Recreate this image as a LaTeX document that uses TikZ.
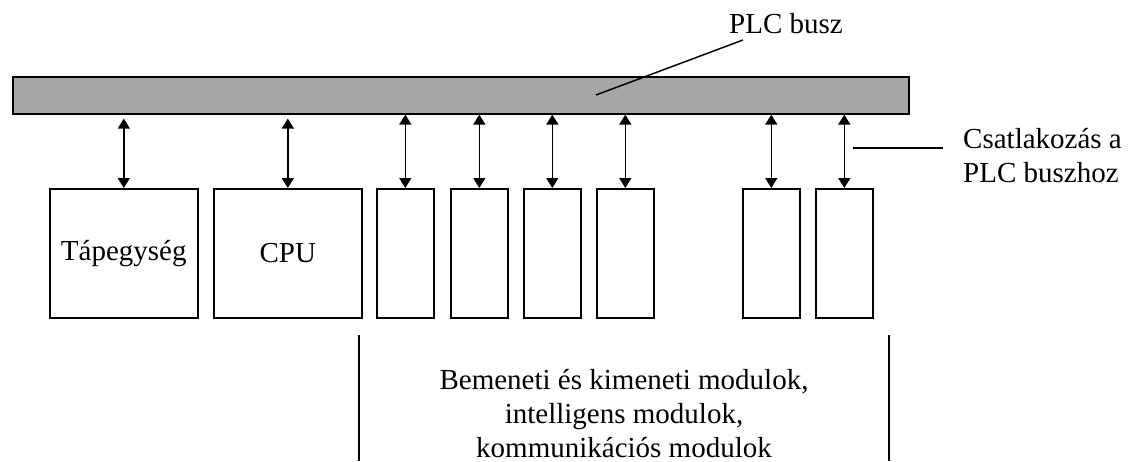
\documentclass[tikz,border=0pt]{standalone}
\usepackage{fontspec}
\setmainfont{Liberation Serif}
\usetikzlibrary{arrows.meta}
\begin{document}
\begin{tikzpicture}[x=1pt,y=-1pt,
  box/.style={draw,line width=1.6pt,inner sep=0pt,anchor=north west},
  link/.style={line width=1.5pt,{Triangle[length=10pt,width=12pt]}-{Triangle[length=10pt,width=12pt]}},
  lead/.style={line width=1.5pt},
  txt/.style={font=\fontsize{29}{34}\selectfont,inner sep=0pt}]
\useasboundingbox (0,0) rectangle (1138,461);
\node[box,fill=black!35,minimum width=896pt,minimum height=37pt] (bus) at (12,76) {};
\node[box,minimum width=148pt,minimum height=129pt] (tap) at (49,188) {};
\node[txt] at (tap.center) {Tápegység};
\node[box,minimum width=148pt,minimum height=129pt] (cpu) at (213,188) {};
\node[txt] at (cpu.center) {CPU};
\node[box,minimum width=57pt,minimum height=129pt] (m1) at (376,188) {};
\node[box,minimum width=57pt,minimum height=129pt] (m2) at (450,188) {};
\node[box,minimum width=57pt,minimum height=129pt] (m3) at (523,188) {};
\node[box,minimum width=57pt,minimum height=129pt] (m4) at (596,188) {};
\node[box,minimum width=57pt,minimum height=129pt] (m5) at (742,188) {};
\node[box,minimum width=57pt,minimum height=129pt] (m6) at (815,188) {};
\draw[link,shorten <=4pt] (tap.north |- bus.south) -- (tap.north);
\draw[link,shorten <=4pt] (cpu.north |- bus.south) -- (cpu.north);
\foreach \m in {m1,m2,m3,m4,m5,m6}
  \draw[link] (\m.north |- bus.south) -- (\m.north);
\node[txt] (plc) at (786,24) {PLC busz};
\coordinate (plcA) at (743,40);
\coordinate (plcB) at (596,95);
\draw[lead] (plcA) -- (plcB);
\node[txt,align=left,anchor=west] (cs) at (963,156) {Csatlakozás a\\PLC buszhoz};
\coordinate (csA) at (853,148);
\draw[lead] (csA) -- (csA -| 943,0);
\node[txt,align=center] (mod) at (624,414) {Bemeneti és kimeneti modulok,\\intelligens modulok,\\kommunikációs modulok};
\coordinate (vl) at (359,335);
\coordinate (vr) at (889,335);
\draw[lead] (vl) -- (vl |- 0,461);
\draw[lead] (vr) -- (vr |- 0,461);
\end{tikzpicture}
\end{document}
